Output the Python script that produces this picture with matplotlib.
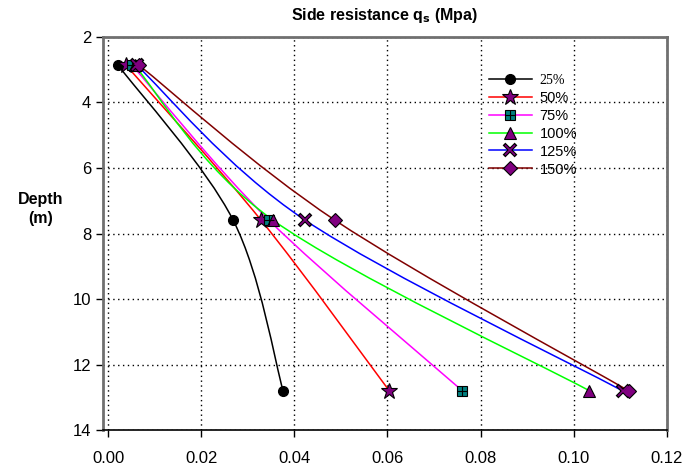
import numpy as np
import matplotlib.pyplot as plt
from matplotlib.path import Path
from matplotlib.patches import PathPatch
from matplotlib.lines import Line2D
from matplotlib.legend_handler import HandlerTuple

plt.rcParams['font.family'] = ['Liberation Sans', 'DejaVu Sans']

# depth of the three measurement levels (m)
depth = [2.87, 7.6, 12.8]

# side resistance qs (MPa) for each load level
labels = ['25%', '50%', '75%', '100%', '125%', '150%']
qs_25 = [0.0022, 0.0269, 0.0376]
qs_50 = [0.0039, 0.0329, 0.0604]
qs_75 = [0.0052, 0.0346, 0.0761]
qs_100 = [0.0057, 0.0355, 0.1034]
qs_125 = [0.0062, 0.0424, 0.1105]
qs_150 = [0.0067, 0.0488, 0.1118]
series = [qs_25, qs_50, qs_75, qs_100, qs_125, qs_150]

line_colors = ['black', '#ff0000', '#ff00ff', '#00ff00', '#0000ff', '#800000']
purple = '#800080'


def smooth_path(xs, ys):
    # bezier smoothing through the points, like a spreadsheet "smoothed line"
    pts = np.column_stack([xs, ys]).astype(float)
    n = len(pts)
    verts = [pts[0]]
    codes = [Path.MOVETO]
    for i in range(n - 1):
        p_prev = pts[i - 1] if i > 0 else pts[i]
        p_next2 = pts[i + 2] if i + 2 < n else pts[i + 1]
        c1 = pts[i] + (pts[i + 1] - p_prev) / 6.0
        c2 = pts[i + 1] - (p_next2 - pts[i]) / 6.0
        verts += [c1, c2, pts[i + 1]]
        codes += [Path.CURVE4] * 3
    return Path(verts, codes)


fig = plt.figure(figsize=(6.86, 4.67), dpi=100)
ax = fig.add_axes([0.150, 0.079, 0.822, 0.842])

for qs, col in zip(series, line_colors):
    ax.add_patch(PathPatch(smooth_path(qs, depth), facecolor='none',
                           edgecolor=col, lw=1.1, zorder=3))

# marker styles per series (75% gets a '+' on top, 125% a purple 'x' inside a black one)
specs = [
    [dict(marker='o', mfc='black', mec='black', ms=7)],
    [dict(marker='*', mfc=purple, mec='black', mew=0.8, ms=12)],
    [dict(marker='s', mfc='#008080', mec='black', mew=0.8, ms=7),
     dict(marker='+', color='black', mew=0.8, ms=7)],
    [dict(marker='^', mfc=purple, mec='black', mew=0.8, ms=9)],
    [dict(marker='x', color='black', mew=2.8, ms=8),
     dict(marker='x', color=purple, mew=1.2, ms=7)],
    [dict(marker='D', mfc=purple, mec='black', mew=0.8, ms=7.5)],
]

handles = []
for qs, col, spec in zip(series, line_colors, specs):
    parts = [Line2D([], [], color=col, lw=1.1)]
    for k, s in enumerate(spec):
        ax.plot(qs, depth, ls='none', zorder=5 + k, **s)
        parts.append(Line2D([], [], ls='none', **s))
    handles.append(tuple(parts))

leg = ax.legend(handles, labels, loc='upper left', bbox_to_anchor=(0.662, 0.94),
                frameon=False, fontsize=10.5, handlelength=2.9, handletextpad=0.55,
                labelspacing=0.27, handler_map={tuple: HandlerTuple(ndivide=1)})
leg.get_texts()[0].set_fontfamily('Liberation Serif')
leg.get_texts()[0].set_fontsize(10)

ax.set_xlim(-0.0011, 0.12)
ax.set_ylim(14, 2)
ax.set_xticks(np.arange(0, 0.121, 0.02))
ax.set_yticks(np.arange(2, 15, 2))
ax.xaxis.set_major_formatter(plt.FormatStrFormatter('%.2f'))
ax.tick_params(direction='out', length=5, width=1, labelsize=12, colors='black')
ax.tick_params(axis='x', pad=10)
ax.grid(True, color='black', ls=(0, (1, 2.5)), lw=1)

for side in ['left', 'top', 'right']:
    ax.spines[side].set_color('#707070')
    ax.spines[side].set_linewidth(2)
ax.spines['bottom'].set_color('black')
ax.spines['bottom'].set_linewidth(1.2)

ax.set_title(r'Side resistance q$_\mathbf{s}$ (Mpa)', fontsize=11.5,
             fontweight='bold', pad=12)
fig.text(41 / 686, 1 - 209 / 467, 'Depth\n(m)', fontsize=11.5,
         fontweight='bold', ha='center', va='center', linespacing=1.35)

fig.savefig('out.png', dpi=100)
